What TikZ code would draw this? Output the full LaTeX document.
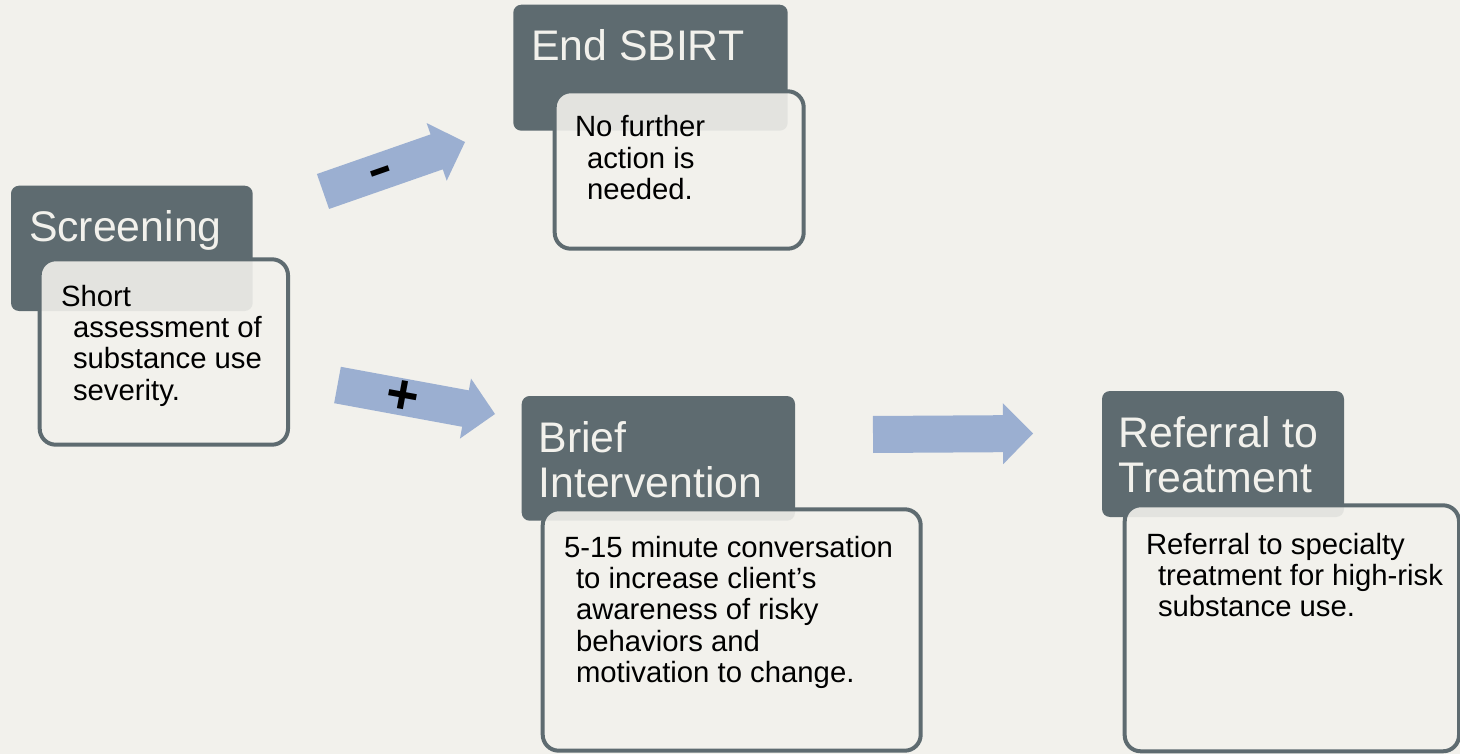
\documentclass[tikz,border=0pt]{standalone}
\usepackage{fontspec}
\setmainfont{Liberation Sans}
\usetikzlibrary{calc}
\definecolor{bgc}{RGB}{242,241,236}
\definecolor{darkc}{RGB}{94,107,112}
\definecolor{arrowc}{RGB}{155,175,209}
\newcommand\IndLn{\hspace*{12pt}}
\newcommand\BlockArrow[3]{%
  \coordinate (#3) at ($(#2)!30pt!(#1)$);
  \fill[arrowc] ($(#1)!18.5pt!90:(#2)$) -- ($(#3)!18.5pt!90:(#2)$) -- ($(#3)!30.5pt!90:(#2)$) -- (#2) -- ($(#3)!30.5pt!-90:(#2)$) -- ($(#3)!18.5pt!-90:(#2)$) -- ($(#1)!18.5pt!-90:(#2)$) -- cycle;}
\begin{document}
\begin{tikzpicture}[x=1pt,y=-1pt,
  darkbox/.style={fill=darkc, draw=none, rounded corners=8pt, inner sep=0pt, outer sep=0pt, anchor=north west},
  lightbox/.style={fill=bgc, fill opacity=0.9, draw=darkc, draw opacity=1, line width=4pt, rounded corners=16pt, inner sep=0pt, outer sep=0pt, anchor=north west},
  title/.style={anchor=base west, inner sep=0pt, outer sep=0pt, text=bgc, font=\fontsize{42.8}{45.7}\selectfont},
  body/.style={anchor=base west, inner sep=0pt, outer sep=0pt, text=black, font=\fontsize{29.3}{31.4}\selectfont},
  sign/.style={inner sep=0pt, outer sep=0pt, text=black}]
\useasboundingbox (0,0) rectangle (1460,754);
\fill[bgc] (0,0) rectangle (1460,754);
% arrows
\coordinate (a1s) at (323,191.5); \coordinate (a1e) at (465,142);
\coordinate (a2s) at (337.5,385); \coordinate (a2e) at (495,414);
\coordinate (a3s) at (873,434.5); \coordinate (a3e) at (1033,433.5);
\BlockArrow{a1s}{a1e}{a1h}
\BlockArrow{a2s}{a2e}{a2h}
\BlockArrow{a3s}{a3e}{a3h}
\node[sign, rotate=19.2, anchor=center, font=\bfseries\fontsize{36}{36}\selectfont] (minus) at ($($(a1s)!0.41!(a1e)$)+(1.5,6)$) {\scalebox{1.05}[1.6]{–}};
\path (a2s) -- node[sign, sloped, pos=0.41, font=\bfseries\fontsize{56}{56}\selectfont] (plus) {+} (a2e);
% dark header boxes
\node[darkbox, minimum width=241.7pt, minimum height=125.3pt] (scrD) at (11,185.7) {};
\node[darkbox, minimum width=274.4pt, minimum height=126pt] (endD) at (513.3,4.7) {};
\node[darkbox, minimum width=273.3pt, minimum height=124.7pt] (briD) at (521.7,396) {};
\node[darkbox, minimum width=242pt, minimum height=126pt] (refD) at (1102,391) {};
% light description boxes
\node[lightbox, minimum width=248.3pt, minimum height=185.4pt] (scrL) at (39.7,259.3) {};
\node[lightbox, minimum width=249pt, minimum height=157.4pt] (endL) at (554.7,91.3) {};
\node[lightbox, minimum width=378pt, minimum height=241.4pt] (briL) at (542.7,509.3) {};
\node[lightbox, minimum width=334.3pt, minimum height=246pt] (refL) at (1124.7,505.3) {};
% titles
\node[title] (scrT) at (29,242) {Screening};
\node[title] (endT) at (531,61) {End SBIRT};
\node[title] (briT) at (538.5,452) {\begin{tabular}[t]{@{}l@{}}Brief\\Intervention\end{tabular}};
\node[title] (refT) at (1118.5,447) {\begin{tabular}[t]{@{}l@{}}Referral to\\Treatment\end{tabular}};
% body texts
\node[body] (scrB) at (61,306) {\begin{tabular}[t]{@{}l@{}}Short\\\IndLn assessment of\\\IndLn substance use\\\IndLn severity.\end{tabular}};
\node[body] (endB) at (575,137) {\begin{tabular}[t]{@{}l@{}}No further\\\IndLn action is\\\IndLn needed.\end{tabular}};
\node[body] (briB) at (564,557) {\begin{tabular}[t]{@{}l@{}}5-15 minute conversation\\\IndLn to increase client’s\\\IndLn awareness of risky\\\IndLn behaviors and\\\IndLn motivation to change.\end{tabular}};
\node[body] (refB) at (1146,554) {\begin{tabular}[t]{@{}l@{}}Referral to specialty\\\IndLn treatment for high-risk\\\IndLn substance use.\end{tabular}};
\end{tikzpicture}
\end{document}
